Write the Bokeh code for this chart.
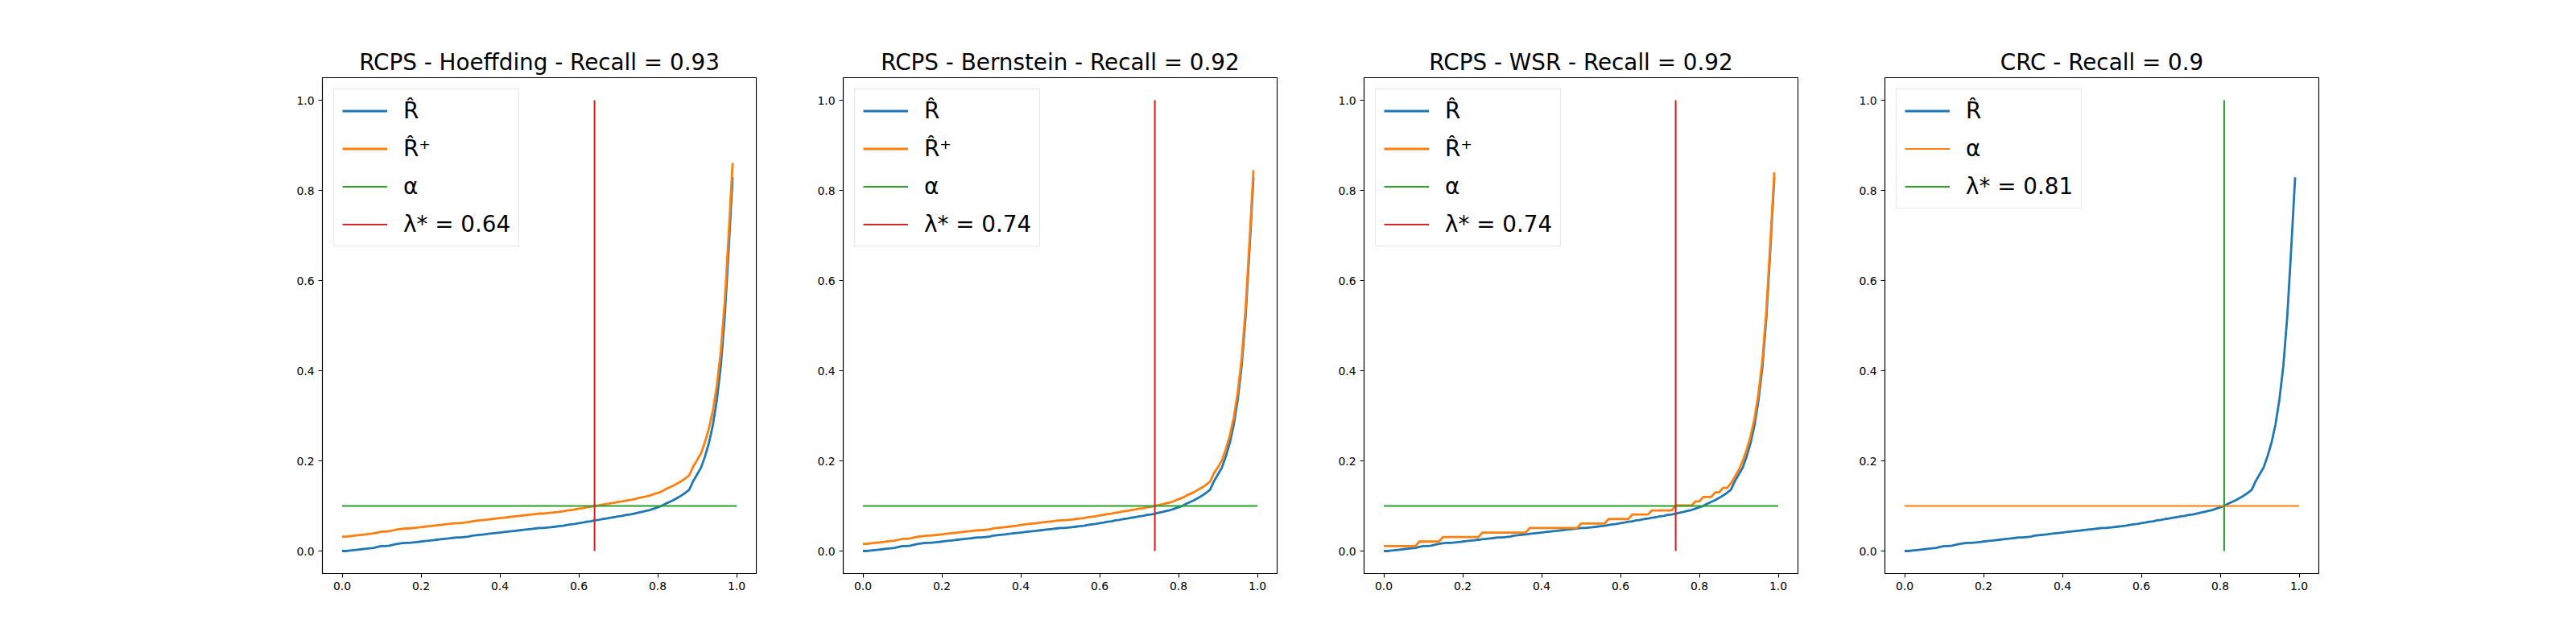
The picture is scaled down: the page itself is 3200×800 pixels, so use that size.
import numpy as np
from bokeh.plotting import figure
from bokeh.layouts import row
from bokeh.models import Legend, LegendItem, Range1d, FixedTicker, PrintfTickFormatter
from bokeh.embed import file_html
from bokeh.resources import INLINE

# ---------------- data ----------------
lambdas = np.round(np.arange(100) * 0.01, 2)

risk_hat = [
    0.000, 0.000, 0.001, 0.002, 0.003, 0.004, 0.005, 0.006, 0.007, 0.009,
    0.011, 0.011, 0.012, 0.014, 0.016, 0.017, 0.018, 0.018, 0.019, 0.020,
    0.021, 0.022, 0.023, 0.024, 0.025, 0.026, 0.027, 0.028, 0.029, 0.030,
    0.030, 0.031, 0.032, 0.034, 0.035, 0.036, 0.037, 0.038, 0.039, 0.040,
    0.041, 0.042, 0.043, 0.044, 0.045, 0.046, 0.047, 0.048, 0.049, 0.050,
    0.051, 0.051, 0.052, 0.053, 0.054, 0.055, 0.056, 0.058, 0.059, 0.060,
    0.062, 0.063, 0.065, 0.066, 0.068, 0.069, 0.071, 0.072, 0.074, 0.075,
    0.077, 0.078, 0.080, 0.081, 0.083, 0.085, 0.087, 0.089, 0.091, 0.094,
    0.097, 0.100, 0.105, 0.109, 0.113, 0.118, 0.123, 0.129, 0.136, 0.155,
    0.170, 0.185, 0.210, 0.240, 0.280, 0.335, 0.410, 0.520, 0.670, 0.829,
]

risk_plus_hoeffding = [
    0.032, 0.032, 0.033, 0.034, 0.035, 0.036, 0.037, 0.038, 0.039, 0.041,
    0.043, 0.043, 0.044, 0.046, 0.048, 0.049, 0.050, 0.050, 0.051, 0.052,
    0.053, 0.054, 0.055, 0.056, 0.057, 0.058, 0.059, 0.060, 0.061, 0.062,
    0.062, 0.063, 0.064, 0.066, 0.067, 0.068, 0.069, 0.070, 0.071, 0.072,
    0.073, 0.074, 0.075, 0.076, 0.077, 0.078, 0.079, 0.080, 0.081, 0.082,
    0.083, 0.083, 0.084, 0.085, 0.086, 0.087, 0.088, 0.090, 0.091, 0.092,
    0.094, 0.095, 0.097, 0.098, 0.100, 0.101, 0.103, 0.104, 0.106, 0.107,
    0.109, 0.110, 0.112, 0.113, 0.115, 0.117, 0.119, 0.121, 0.123, 0.126,
    0.129, 0.132, 0.137, 0.141, 0.145, 0.150, 0.155, 0.161, 0.168, 0.187,
    0.202, 0.217, 0.242, 0.272, 0.312, 0.367, 0.442, 0.552, 0.702, 0.861,
]

risk_plus_bernstein = [
    0.016, 0.016, 0.017, 0.018, 0.019, 0.020, 0.021, 0.022, 0.023, 0.025,
    0.027, 0.027, 0.028, 0.030, 0.032, 0.033, 0.034, 0.034, 0.035, 0.036,
    0.037, 0.038, 0.039, 0.040, 0.041, 0.042, 0.043, 0.044, 0.045, 0.046,
    0.046, 0.047, 0.048, 0.050, 0.051, 0.052, 0.053, 0.054, 0.055, 0.056,
    0.058, 0.059, 0.060, 0.061, 0.062, 0.063, 0.064, 0.065, 0.066, 0.067,
    0.068, 0.068, 0.069, 0.070, 0.071, 0.072, 0.073, 0.075, 0.076, 0.077,
    0.079, 0.080, 0.082, 0.083, 0.085, 0.086, 0.088, 0.089, 0.091, 0.092,
    0.094, 0.095, 0.097, 0.098, 0.100, 0.102, 0.104, 0.106, 0.108, 0.111,
    0.115, 0.118, 0.123, 0.127, 0.131, 0.136, 0.141, 0.147, 0.154, 0.173,
    0.186, 0.201, 0.226, 0.256, 0.296, 0.351, 0.426, 0.536, 0.686, 0.845,
]

risk_plus_wsr = [
    0.011, 0.011, 0.011, 0.011, 0.011, 0.011, 0.011, 0.011, 0.011, 0.021,
    0.021, 0.021, 0.021, 0.021, 0.021, 0.031, 0.031, 0.031, 0.031, 0.031,
    0.031, 0.031, 0.031, 0.031, 0.031, 0.041, 0.041, 0.041, 0.041, 0.041,
    0.041, 0.041, 0.041, 0.041, 0.041, 0.041, 0.041, 0.051, 0.051, 0.051,
    0.051, 0.051, 0.051, 0.051, 0.051, 0.051, 0.051, 0.051, 0.051, 0.051,
    0.061, 0.061, 0.061, 0.061, 0.061, 0.061, 0.061, 0.071, 0.071, 0.071,
    0.071, 0.071, 0.071, 0.081, 0.081, 0.081, 0.081, 0.081, 0.090, 0.090,
    0.090, 0.090, 0.090, 0.090, 0.101, 0.101, 0.101, 0.101, 0.101, 0.110,
    0.110, 0.120, 0.120, 0.120, 0.130, 0.130, 0.140, 0.140, 0.150, 0.165,
    0.180, 0.200, 0.225, 0.255, 0.295, 0.350, 0.425, 0.535, 0.685, 0.840,
]

alpha = 0.1
alpha_span = [0.0, 1.0]
lambda_span = [0.0, 1.0]

titles = [
    "RCPS - Hoeffding - Recall = 0.93",
    "RCPS - Bernstein - Recall = 0.92",
    "RCPS - WSR - Recall = 0.92",
    "CRC - Recall = 0.9",
]
lambda_star = [0.64, 0.74, 0.74, 0.81]
upper_bounds = [risk_plus_hoeffding, risk_plus_bernstein, risk_plus_wsr, None]

y_ticks = [0.0, 0.2, 0.4, 0.6, 0.8, 1.0]
x_ticks = [0.0, 0.2, 0.4, 0.6, 0.8, 1.0]

# ---------------- style ----------------
BLUE, ORANGE, GREEN, RED = "#1f77b4", "#ff7f0e", "#2ca02c", "#d62728"
FONT = "DejaVu Sans"
FRAME_W, FRAME_H = 539, 616
borders_lr = [(400, 54), (54, 54), (54, 54), (54, 320)]


def make_panel(i):
    bl, br = borders_lr[i]
    p = figure(
        frame_width=FRAME_W, frame_height=FRAME_H,
        min_border_left=bl, min_border_right=br,
        min_border_top=96, min_border_bottom=88,
        x_range=Range1d(-0.05, 1.05), y_range=Range1d(-0.05, 1.05),
        output_backend="svg", toolbar_location=None,
        title=titles[i],
    )
    p.title.text_font = FONT
    p.title.text_font_size = "27.8px"
    p.title.text_font_style = "normal"
    p.title.align = "center"
    p.title.text_color = "black"
    p.title.standoff = 6

    p.xgrid.visible = False
    p.ygrid.visible = False
    p.outline_line_color = "black"
    p.outline_line_width = 1.1
    p.background_fill_color = "white"
    p.border_fill_color = "white"

    p.xaxis.ticker = FixedTicker(ticks=x_ticks)
    p.yaxis.ticker = FixedTicker(ticks=y_ticks)
    for ax in (p.xaxis[0], p.yaxis[0]):
        ax.formatter = PrintfTickFormatter(format="%.1f")
        ax.major_label_text_font = FONT
        ax.major_label_text_font_size = "13.9px"
        ax.major_label_text_color = "black"
        ax.major_tick_in = 0
        ax.major_tick_out = 5
        ax.major_tick_line_color = "black"
        ax.major_tick_line_width = 1.1
        ax.minor_tick_line_color = None
        ax.axis_line_color = "black"
        ax.axis_line_width = 1.1
        ax.major_label_standoff = 5

    items = []
    r_hat = p.line(lambdas, risk_hat, line_color=BLUE, line_width=2.8)
    items.append(LegendItem(label="R\u0302", renderers=[r_hat]))
    ub = upper_bounds[i]
    if ub is not None:
        r_plus = p.line(lambdas, ub, line_color=ORANGE, line_width=2.8)
        items.append(LegendItem(label="R\u0302\u207a", renderers=[r_plus]))
        a_col, l_col = GREEN, RED
    else:
        a_col, l_col = ORANGE, GREEN
    r_a = p.line(alpha_span, [alpha, alpha], line_color=a_col, line_width=2.1)
    items.append(LegendItem(label="\u03b1", renderers=[r_a]))
    r_l = p.line([lambda_star[i], lambda_star[i]], lambda_span, line_color=l_col, line_width=2.1)
    items.append(LegendItem(label="\u03bb* = %.2f" % lambda_star[i], renderers=[r_l]))

    legend = Legend(
        items=items, location="top_left",
        label_text_font=FONT, label_text_font_size="27.8px",
        label_text_color="black",
        glyph_width=56, glyph_height=33, label_height=33,
        label_standoff=20, spacing=14, padding=10, margin=14,
        border_line_color="#cccccc", border_line_width=1.1,
        background_fill_color="white", background_fill_alpha=0.8,
    )
    p.add_layout(legend)
    return p


panels = [make_panel(i) for i in range(4)]
layout = row(*panels)

open("out.html", "w").write(file_html(layout, INLINE))
